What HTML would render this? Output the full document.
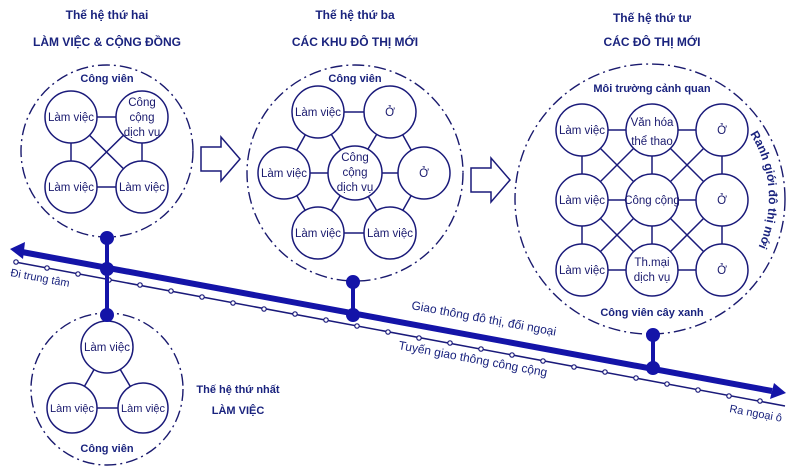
<!DOCTYPE html>
<html><head><meta charset="utf-8"><style>
html,body{margin:0;padding:0;background:#fff;}
svg{display:block;}
text{font-family:"Liberation Sans",sans-serif;fill:#1a237e;}
.t{font-weight:bold;font-size:12px;text-anchor:middle;}
.n{font-size:11.5px;text-anchor:middle;fill:#1a1a6e;}
.c{fill:#fff;stroke:#1a1a7a;stroke-width:1.5;}
.o{fill:none;stroke:#1a1a6e;stroke-width:1.4;stroke-dasharray:12 4 2 4;}
.l{stroke:#1a1a7a;stroke-width:1.5;fill:none;}
</style></head><body>
<svg width="800" height="475" viewBox="0 0 800 475">
<!-- titles -->
<text class="t" x="107" y="19">Thế hệ thứ hai</text>
<text class="t" x="107" y="46">LÀM VIỆC &amp; CỘNG ĐỒNG</text>
<text class="t" x="355" y="19">Thế hệ thứ ba</text>
<text class="t" x="355" y="46">CÁC KHU ĐÔ THỊ MỚI</text>
<text class="t" x="652" y="22">Thế hệ thứ tư</text>
<text class="t" x="652" y="46">CÁC ĐÔ THỊ MỚI</text>

<!-- Gen2 -->
<circle class="o" cx="107" cy="151" r="86"/>
<text class="t" x="107" y="82" style="font-size:11px">Công viên</text>
<path class="l" d="M71 117H142M71 117V187M142 117V187M71 187H142M71 117L142 187M142 117L71 187"/>
<circle class="c" cx="71" cy="117" r="26"/><circle class="c" cx="142" cy="117" r="26"/>
<circle class="c" cx="71" cy="187" r="26"/><circle class="c" cx="142" cy="187" r="26"/>
<text class="n" x="71" y="121">Làm việc</text>
<text class="n" x="142" y="106">Công</text><text class="n" x="142" y="121">cộng</text><text class="n" x="142" y="136">dịch vụ</text>
<text class="n" x="71" y="191">Làm việc</text><text class="n" x="142" y="191">Làm việc</text>

<!-- arrows -->
<path d="M201 147H221V137L240 159L221 181V171H201Z" fill="#fff" stroke="#1a1a7a" stroke-width="1.5"/>
<path d="M471 168H491V158L510 180L491 202V192H471Z" fill="#fff" stroke="#1a1a7a" stroke-width="1.5"/>

<!-- Gen3 -->
<circle class="o" cx="355" cy="173" r="108"/>
<text class="t" x="355" y="82" style="font-size:11px">Công viên</text>
<path class="l" d="M318 112L390 112L424 173L390 233L318 233L284 173Z M318 112L390 233 M390 112L318 233 M284 173H424"/>
<circle class="c" cx="318" cy="112" r="26"/><circle class="c" cx="390" cy="112" r="26"/>
<circle class="c" cx="284" cy="173" r="26"/><circle class="c" cx="355" cy="173" r="27"/><circle class="c" cx="424" cy="173" r="26"/>
<circle class="c" cx="318" cy="233" r="26"/><circle class="c" cx="390" cy="233" r="26"/>
<text class="n" x="318" y="116">Làm việc</text><text class="n" x="390" y="116">Ở</text>
<text class="n" x="284" y="177">Làm việc</text><text class="n" x="424" y="177">Ở</text>
<text class="n" x="355" y="161">Công</text><text class="n" x="355" y="176">cộng</text><text class="n" x="355" y="191">dịch vụ</text>
<text class="n" x="318" y="237">Làm việc</text><text class="n" x="390" y="237">Làm việc</text>

<!-- Gen4 -->
<circle class="o" cx="650" cy="199" r="135"/>
<text class="t" x="652" y="92" style="font-size:11px">Môi trường cảnh quan</text>
<text class="t" x="652" y="316" style="font-size:11px">Công viên cây xanh</text>
<path class="l" d="M582 130H722M582 200H722M582 270H722M582 130V270M652 130V270M722 130V270M582 130L722 270M652 130L722 200M582 200L652 270M722 130L582 270M652 130L582 200M722 200L652 270"/>
<circle class="c" cx="582" cy="130" r="26"/><circle class="c" cx="652" cy="130" r="26"/><circle class="c" cx="722" cy="130" r="26"/>
<circle class="c" cx="582" cy="200" r="26"/><circle class="c" cx="652" cy="200" r="26"/><circle class="c" cx="722" cy="200" r="26"/>
<circle class="c" cx="582" cy="270" r="26"/><circle class="c" cx="652" cy="270" r="26"/><circle class="c" cx="722" cy="270" r="26"/>
<text class="n" x="582" y="134">Làm việc</text><text class="n" x="652" y="126">Văn hóa</text><text class="n" x="652" y="145">thể thao</text><text class="n" x="722" y="134">Ở</text>
<text class="n" x="582" y="204">Làm việc</text><text class="n" x="652" y="204">Công cộng</text><text class="n" x="722" y="204">Ở</text>
<text class="n" x="582" y="274">Làm việc</text><text class="n" x="652" y="266">Th.mại</text><text class="n" x="652" y="281">dịch vụ</text><text class="n" x="722" y="274">Ở</text>
<path id="rg" d="M750 134 A119 119 0 0 1 747 267" fill="none"/>
<text style="font-weight:bold;font-size:12px;"><textPath href="#rg" startOffset="0">Ranh giới đô thị mới</textPath></text>

<!-- Gen1 -->
<circle class="o" cx="107" cy="389" r="76"/>
<path class="l" d="M107 347L72 408H143Z"/>
<circle class="c" cx="107" cy="347" r="26"/><circle class="c" cx="72" cy="408" r="25"/><circle class="c" cx="143" cy="408" r="25"/>
<text class="n" x="107" y="351">Làm việc</text><text class="n" x="72" y="412" style="font-size:11px">Làm việc</text><text class="n" x="143" y="412" style="font-size:11px">Làm việc</text>
<text class="t" x="107" y="452" style="font-size:11px">Công viên</text>
<text class="t" x="238" y="393" style="font-size:11px">Thế hệ thứ nhất</text>
<text class="t" x="238" y="414" style="font-size:11px">LÀM VIỆC</text>

<!-- transit thin line -->
<line x1="15" y1="262" x2="785" y2="406" stroke="#1a1a7a" stroke-width="1.5"/>
<g fill="#fff" stroke="#1a1a7a" stroke-width="1.2">
<circle cx="16" cy="262" r="2.2"/><circle cx="47" cy="268" r="2.2"/><circle cx="78" cy="274" r="2.2"/><circle cx="109" cy="280" r="2.2"/><circle cx="140" cy="285" r="2.2"/><circle cx="171" cy="291" r="2.2"/><circle cx="202" cy="297" r="2.2"/><circle cx="233" cy="303" r="2.2"/><circle cx="264" cy="309" r="2.2"/><circle cx="295" cy="314" r="2.2"/><circle cx="326" cy="320" r="2.2"/><circle cx="357" cy="326" r="2.2"/><circle cx="388" cy="332" r="2.2"/><circle cx="419" cy="338" r="2.2"/><circle cx="450" cy="343" r="2.2"/><circle cx="481" cy="349" r="2.2"/><circle cx="512" cy="355" r="2.2"/><circle cx="543" cy="361" r="2.2"/><circle cx="574" cy="367" r="2.2"/><circle cx="605" cy="372" r="2.2"/><circle cx="636" cy="378" r="2.2"/><circle cx="667" cy="384" r="2.2"/><circle cx="698" cy="390" r="2.2"/><circle cx="729" cy="396" r="2.2"/><circle cx="760" cy="401" r="2.2"/>
</g>
<!-- main thick line -->
<line x1="22" y1="252" x2="772" y2="391" stroke="#1414a8" stroke-width="6"/>
<path d="M10 249L25 242L23 259Z" fill="#1414a8"/>
<path d="M786 393L770 399L774 383Z" fill="#1414a8"/>
<!-- connectors -->
<g stroke="#1414a8" stroke-width="4" fill="#1414a8">
<line x1="107" y1="238" x2="107" y2="315"/><circle cx="107" cy="238" r="5"/><circle cx="107" cy="269" r="5"/><circle cx="107" cy="315" r="5"/>
<line x1="353" y1="282" x2="353" y2="315"/><circle cx="353" cy="282" r="5"/><circle cx="353" cy="315" r="5"/>
<line x1="653" y1="335" x2="653" y2="368"/><circle cx="653" cy="335" r="5"/><circle cx="653" cy="368" r="5"/>
</g>
<text transform="translate(10,276) rotate(10.5)" style="font-size:11px">Đi trung tâm</text>
<text transform="translate(411,309) rotate(10.5)" style="font-size:12px">Giao thông đô thị, đối ngoại</text>
<text transform="translate(398,349) rotate(10.5)" style="font-size:12px">Tuyến giao thông công cộng</text>
<text transform="translate(729,412) rotate(10.5)" style="font-size:11px">Ra ngoại ô</text>
</svg>
</body></html>
